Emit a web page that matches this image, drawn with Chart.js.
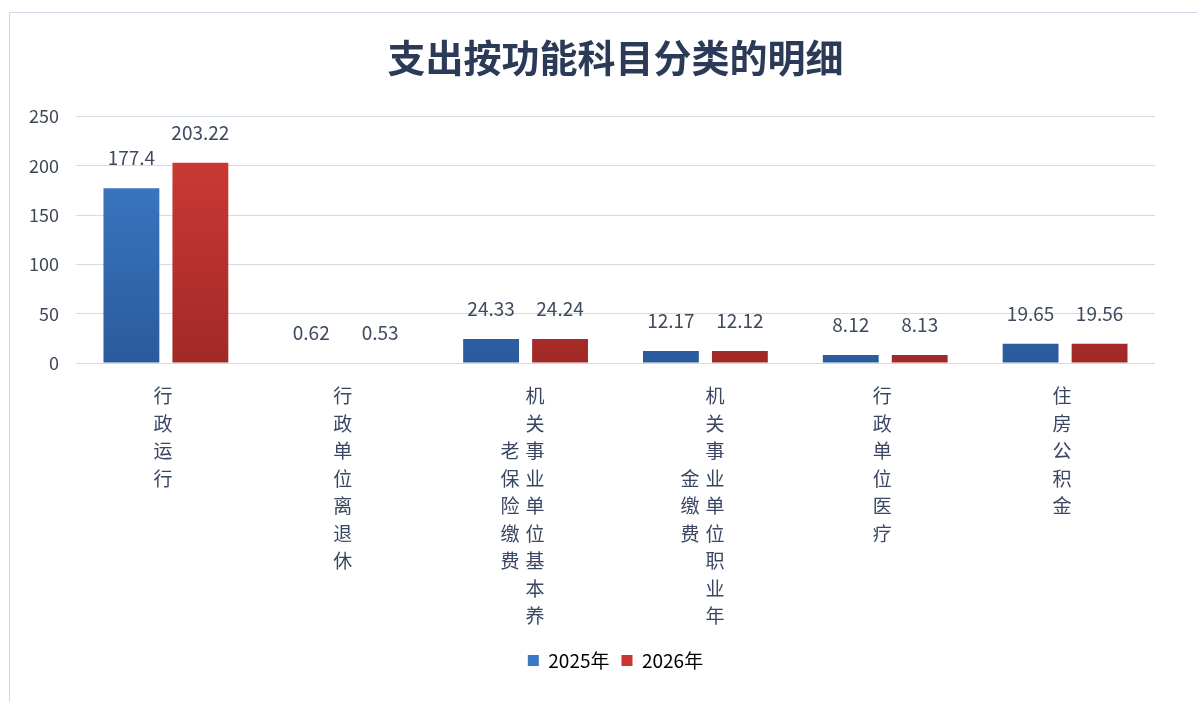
<!DOCTYPE html>
<html>
<head>
<meta charset="utf-8">
<script src="https://cdn.jsdelivr.net/npm/chart.js@4.4.0/dist/chart.umd.min.js"></script>
<style>
  body { margin: 0; background: #fff; }
  #marco { position: absolute; left: 9px; top: 12px; width: 1200px; height: 700px; border-top: 1px solid #cfd9e6; border-left: 1px solid #cfd9e6; background: #fff; }
  #lienzo { position: absolute; left: 0; top: 0; }
</style>
</head>
<body>
<div id="marco"></div>
<canvas id="lienzo" width="1197" height="702"></canvas>
<script>
const titulo = '支出按功能科目分类的明细';
const categorias = ['行政运行', '行政单位离退休', '机关事业单位基本养老保险缴费', '机关事业单位职业年金缴费', '行政单位医疗', '住房公积金'];
const serie2025 = [177.4, 0.62, 24.33, 12.17, 8.12, 19.65];
const serie2026 = [203.22, 0.53, 24.24, 12.12, 8.13, 19.56];
const etiquetasY = [0, 50, 100, 150, 200, 250];

const fuente = "'Noto Sans CJK SC', 'Noto Sans', sans-serif";

// degradado vertical para cada barra
function degradado(ctx, arriba, abajo) {
  const area = ctx.chart.chartArea;
  if (!area) return arriba;
  const g = ctx.chart.ctx.createLinearGradient(0, area.top, 0, area.bottom);
  g.addColorStop(0, arriba);
  g.addColorStop(1, abajo);
  return g;
}

// etiquetas de valor encima de cada barra
const valoresPlugin = {
  id: 'valores',
  afterDatasetsDraw(chart) {
    const c = chart.ctx;
    c.save();
    c.font = '19px ' + fuente;
    c.fillStyle = '#3e4a5e';
    c.textAlign = 'center';
    c.textBaseline = 'middle';
    chart.data.datasets.forEach((ds, i) => {
      chart.getDatasetMeta(i).data.forEach((barra, j) => {
        c.fillText(String(ds.data[j]), barra.x, barra.y - 30);
      });
    });
    c.restore();
  }
};

// categorías en vertical, columnas de 9 caracteres de derecha a izquierda
const verticalPlugin = {
  id: 'vertical',
  afterDraw(chart) {
    const c = chart.ctx;
    const escala = chart.scales.x;
    const filaAlto = 27.5;
    const colAncho = 25;
    c.save();
    c.font = '19px ' + fuente;
    c.fillStyle = '#3a4762';
    c.textAlign = 'center';
    c.textBaseline = 'middle';
    categorias.forEach((nombre, i) => {
      const cols = [];
      for (let k = 0; k < nombre.length; k += 9) cols.push(nombre.slice(k, k + 9));
      const xc = escala.getPixelForValue(i) - 3;
      const y0 = escala.top + 33;
      const filas = cols[0].length;
      cols.forEach((col, n) => {
        const x = xc + (cols.length - 1) * colAncho / 2 - n * colAncho;
        const desfase = (filas - col.length) / 2;
        for (let m = 0; m < col.length; m++) {
          c.fillText(col[m], x, y0 + (m + desfase) * filaAlto);
        }
      });
    });
    c.restore();
  }
};

new Chart(document.getElementById('lienzo'), {
  type: 'bar',
  data: {
    labels: categorias,
    datasets: [
      {
        label: '2025年',
        data: serie2025,
        backgroundColor: ctx => degradado(ctx, '#3f7fcc', '#2b5a9c'),
        borderWidth: 0
      },
      {
        label: '2026年',
        data: serie2026,
        backgroundColor: ctx => degradado(ctx, '#d43c37', '#a12927'),
        borderWidth: 0
      }
    ]
  },
  options: {
    responsive: false,
    animation: false,
    categoryPercentage: 0.767,
    barPercentage: 0.81,
    layout: { padding: { left: 12, right: 42, top: 20, bottom: 22 } },
    plugins: {
      title: {
        display: true,
        fullSize: false,
        text: titulo,
        color: '#2b3a57',
        font: { family: fuente, size: 38, weight: 'bold' },
        padding: { top: 15, bottom: 36 }
      },
      legend: {
        position: 'bottom',
        fullSize: false,
        labels: {
          color: '#404855',
          font: { family: fuente, size: 19 },
          boxWidth: 11,
          boxHeight: 11,
          padding: 12,
          generateLabels: chart => chart.data.datasets.map((ds, i) => ({
            text: ds.label,
            fillStyle: i === 0 ? '#3a78c6' : '#cc3532',
            strokeStyle: 'transparent',
            lineWidth: 0,
            datasetIndex: i
          }))
        }
      },
      tooltip: { enabled: false }
    },
    scales: {
      x: {
        grid: { display: false },
        border: { display: false },
        ticks: { display: false },
        afterFit: escala => { escala.height = 276; }
      },
      y: {
        min: 0,
        max: 250,
        afterBuildTicks: escala => { escala.ticks = etiquetasY.map(v => ({ value: v })); },
        grid: { color: '#d3dbe6', drawTicks: false },
        border: { display: false },
        ticks: {
          color: '#404855',
          font: { family: fuente, size: 18 },
          padding: 17
        }
      }
    }
  },
  plugins: [valoresPlugin, verticalPlugin]
});
</script>
</body>
</html>
